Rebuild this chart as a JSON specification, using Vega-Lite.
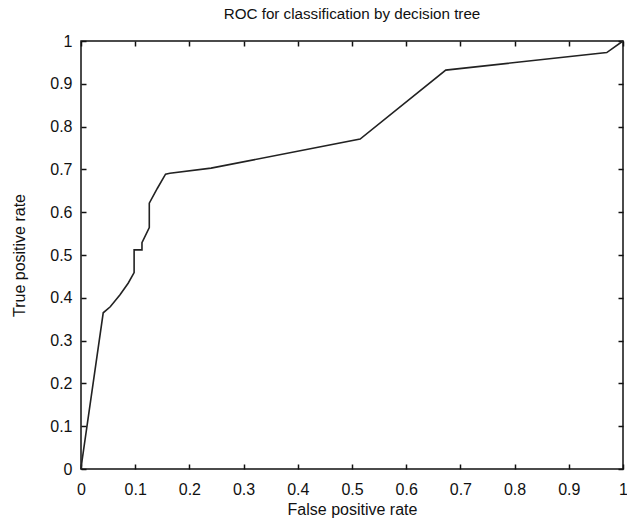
{
  "$schema": "https://vega.github.io/schema/vega-lite/v6.json",
  "autosize": {"type": "none"},
  "padding": {"left": 81, "top": 41, "right": 4, "bottom": 56},
  "width": 542,
  "height": 428,
  "background": "white",
  "title": {"text": "ROC for classification by decision tree", "fontSize": 15.2, "fontWeight": "normal", "font": "Liberation Sans", "color": "#111", "offset": 11},
  "config": {
    "view": {"stroke": "#111", "strokeWidth": 1.5},
    "axis": {"grid": false, "domain": false, "ticks": true, "tickSize": 5, "tickColor": "#111", "tickWidth": 1.5, "offset": -5, "labelFont": "Liberation Sans", "labelFontSize": 16, "labelColor": "#111", "titleFont": "Liberation Sans", "titleFontSize": 16, "titleFontWeight": "normal", "titleColor": "#111"}
  },
  "data": {"values": [
    {"fpr": 0, "tpr": 0},
    {"fpr": 0.002, "tpr": 0.02},
    {"fpr": 0.041, "tpr": 0.365},
    {"fpr": 0.054, "tpr": 0.379},
    {"fpr": 0.072, "tpr": 0.407},
    {"fpr": 0.087, "tpr": 0.434},
    {"fpr": 0.098, "tpr": 0.459},
    {"fpr": 0.098, "tpr": 0.512},
    {"fpr": 0.1125, "tpr": 0.512},
    {"fpr": 0.1125, "tpr": 0.529},
    {"fpr": 0.126, "tpr": 0.564},
    {"fpr": 0.126, "tpr": 0.621},
    {"fpr": 0.141, "tpr": 0.656},
    {"fpr": 0.156, "tpr": 0.689},
    {"fpr": 0.164, "tpr": 0.691},
    {"fpr": 0.24, "tpr": 0.703},
    {"fpr": 0.515, "tpr": 0.771},
    {"fpr": 0.673, "tpr": 0.932},
    {"fpr": 0.97, "tpr": 0.973},
    {"fpr": 1, "tpr": 1}
  ]},
  "layer": [
    {
      "mark": {"type": "line", "color": "#222", "strokeWidth": 1.6},
      "encoding": {
        "x": {"field": "fpr", "type": "quantitative", "scale": {"domain": [0, 1], "nice": false}, "axis": {"orient": "bottom", "title": "False positive rate", "values": [0,0.1,0.2,0.3,0.4,0.5,0.6,0.7,0.8,0.9,1], "labelPadding": 12, "titlePadding": 4, "labelFlush": false, "labelExpr": "datum.value"}},
        "y": {"field": "tpr", "type": "quantitative", "scale": {"domain": [0, 1], "nice": false}, "axis": {"orient": "left", "title": "True positive rate", "values": [0,0.1,0.2,0.3,0.4,0.5,0.6,0.7,0.8,0.9,1], "labelPadding": 9, "titlePadding": 22, "labelFlush": false, "labelExpr": "datum.value"}},
        "order": {"field": "fpr"}
      }
    },
    {
      "mark": {"type": "line", "strokeOpacity": 0},
      "encoding": {
        "x": {"field": "fpr", "type": "quantitative", "scale": {"domain": [0, 1], "nice": false}, "axis": {"orient": "top", "title": null, "labels": false, "values": [0,0.1,0.2,0.3,0.4,0.5,0.6,0.7,0.8,0.9,1]}},
        "y": {"field": "tpr", "type": "quantitative", "scale": {"domain": [0, 1], "nice": false}, "axis": {"orient": "right", "title": null, "labels": false, "values": [0,0.1,0.2,0.3,0.4,0.5,0.6,0.7,0.8,0.9,1]}}
      }
    }
  ],
  "resolve": {"axis": {"x": "independent", "y": "independent"}}
}
